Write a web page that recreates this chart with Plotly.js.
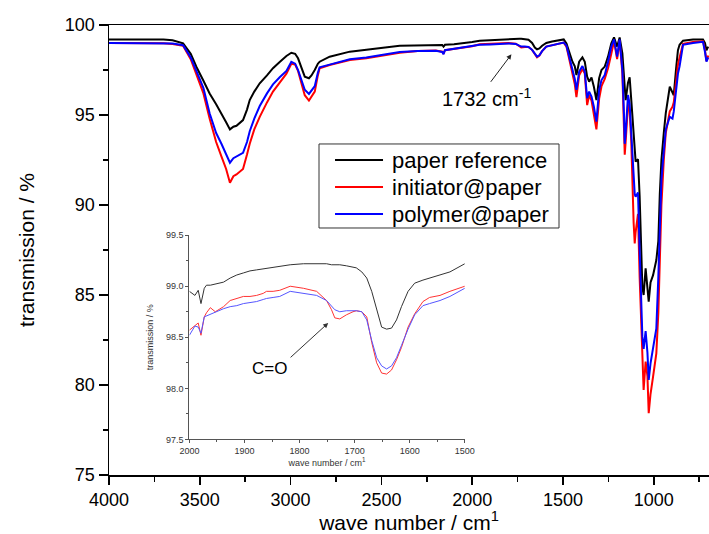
<!DOCTYPE html>
<html>
<head>
<meta charset="utf-8">
<script src="https://cdn.plot.ly/plotly-3.0.1.min.js"></script>
<style>
html,body{margin:0;padding:0;background:#fff;}
#chart{width:709px;height:534px;}
</style>
</head>
<body>
<div id="chart"></div>
<script>
// ---- series names ----
const seriesNames = ['paper reference', 'initiator@paper', 'polymer@paper'];

// ---- main spectrum (wave number, cm-1) ----
const wave = [4000,3800,3700,3650,3592,3550,3519,3480,3446,3410,3381,3355,3334,3315,3298,3275,3262,3240,3225,3200,3170,3130,3097,3060,3023,2996,2975,2959,2940,2922,2899,2885,2867,2850,2840,2785,2674,2583,2491,2399,2300,2200,2165,2158,2150,2100,2050,2000,1959,1900,1850,1800,1760,1740,1730,1710,1690,1670,1655,1643,1630,1615,1592,1560,1530,1518,1496,1481,1463,1448,1435,1426,1411,1393,1380,1367,1356,1343,1330,1316,1301,1288,1270,1252,1234,1219,1202,1188,1173,1164,1160,1155,1142,1133,1124,1111,1105,1100,1087,1078,1063,1056,1045,1035,1028,1018,1004,986,975,967,958,945,934,912,897,890,877,867,858,839,784,750,729,718,710,700];
const paperRef = [99.2,99.2,99.2,99.15,98.98,98.4,97.68,96.9,96.2,95.6,95.1,94.6,94.2,94.35,94.4,94.6,94.72,95.3,95.83,96.3,96.76,97.2,97.6,97.95,98.28,98.46,98.4,98.15,97.6,97.13,97.04,97.2,97.5,97.85,97.96,98.24,98.52,98.65,98.74,98.85,98.88,98.87,98.89,98.8,98.9,98.93,98.97,99.05,99.13,99.17,99.2,99.24,99.24,99.24,99.23,99.22,99.18,99.0,98.75,98.65,98.7,98.85,99.0,99.08,99.12,99.17,99.2,98.98,98.43,97.96,97.7,97.22,97.96,98.2,97.96,97.13,96.85,97.09,96.57,95.83,97.04,97.5,97.69,98.24,98.98,99.31,98.8,99.31,98.43,97.17,96.3,95.83,96.8,97.1,95.83,93.61,93.0,92.41,92.54,90.5,85.46,85.0,86.48,85.5,84.63,85.7,86.1,86.94,88.0,90.6,92.5,94.0,95.1,96.57,96.2,96.1,97.6,98.6,98.9,99.13,99.2,99.2,99.2,99.0,98.6,98.8];
const initiatorPaper = [99.0,99.0,98.98,98.95,98.85,98.1,97.3,96.2,94.8,93.5,92.7,92.0,91.24,91.6,91.7,91.9,92.0,92.8,93.4,94.2,94.9,95.7,96.3,96.8,97.3,97.85,97.8,97.45,96.7,96.1,95.8,96.0,96.3,97.2,97.6,97.78,98.06,98.15,98.3,98.46,98.55,98.58,98.52,98.4,98.6,98.68,98.75,98.82,98.93,98.95,98.97,99.0,98.96,98.8,98.75,98.78,98.78,98.62,98.35,98.2,98.3,98.55,98.8,98.88,98.95,99.0,99.02,98.8,98.0,97.35,96.7,96.0,97.2,97.55,97.3,95.55,96.1,95.8,95.1,94.2,95.9,96.6,97.0,97.6,98.4,99.1,98.1,99.15,97.3,94.5,92.8,93.5,95.6,95.2,93.5,89.0,87.87,88.5,89.5,86.0,81.5,79.72,81.3,80.5,78.43,79.5,80.46,81.76,84.0,87.0,90.0,92.5,94.0,95.2,95.46,95.7,96.9,97.8,98.2,98.95,99.05,99.08,99.1,98.6,98.0,98.3];
const polymerPaper = [99.0,99.0,99.0,98.97,98.88,98.2,97.45,96.5,95.1,94.0,93.4,92.8,92.35,92.6,92.7,92.85,92.9,93.5,94.1,94.8,95.5,96.2,96.7,97.1,97.45,97.95,97.85,97.5,96.9,96.4,96.17,96.35,96.6,97.35,97.65,97.8,98.1,98.2,98.35,98.5,98.55,98.57,98.5,98.38,98.6,98.68,98.72,98.8,98.9,98.92,98.95,98.97,98.95,98.85,98.8,98.8,98.78,98.62,98.38,98.24,98.32,98.55,98.8,98.88,98.93,98.98,99.02,98.85,98.15,97.5,97.0,96.4,97.41,97.72,97.41,95.93,96.3,96.02,95.46,94.63,96.39,96.94,97.22,97.96,98.8,99.2,98.24,99.2,97.5,95.0,93.4,94.0,96.11,95.6,93.98,91.39,90.6,90.46,90.69,87.5,82.7,82.0,83.0,81.8,80.28,81.2,82.06,83.15,86.0,89.0,91.39,93.0,94.2,94.9,94.8,95.2,96.4,97.3,97.7,98.9,99.0,99.05,99.07,98.5,97.96,98.2];

// ---- inset (2000-1500 cm-1) ----
const insetWave = [2000,1990,1984,1979,1973,1969,1962,1953,1944,1938,1926,1914,1902,1890,1878,1866,1860,1848,1836,1817,1793,1769,1751,1742,1736,1727,1715,1703,1697,1687,1678,1669,1660,1651,1642,1633,1624,1615,1603,1591,1576,1564,1545,1527,1500];
const insetRef = [98.95,98.91,98.96,98.83,98.98,99.01,99.01,99.02,99.03,99.04,99.08,99.11,99.13,99.15,99.16,99.17,99.18,99.19,99.2,99.21,99.22,99.22,99.22,99.21,99.21,99.21,99.2,99.19,99.18,99.14,99.08,98.95,98.77,98.6,98.58,98.59,98.67,98.8,98.95,99.03,99.06,99.08,99.11,99.14,99.22];
const insetInit = [98.57,98.62,98.64,98.52,98.7,98.74,98.79,98.75,98.78,98.8,98.86,98.88,98.9,98.9,98.91,98.93,98.95,98.95,98.96,99.0,98.98,98.95,98.86,98.77,98.69,98.68,98.72,98.75,98.76,98.75,98.7,98.45,98.25,98.15,98.14,98.18,98.28,98.4,98.6,98.73,98.85,98.89,98.91,98.95,99.0];
const insetPoly = [98.52,98.61,98.6,98.54,98.7,98.71,98.72,98.75,98.77,98.78,98.8,98.81,98.83,98.84,98.85,98.87,98.88,98.89,98.9,98.95,98.93,98.91,98.86,98.8,98.77,98.75,98.76,98.76,98.76,98.75,98.67,98.47,98.3,98.22,98.19,98.22,98.3,98.42,98.58,98.72,98.81,98.83,98.86,98.9,98.98];

const FONT = "Arial, 'Liberation Sans', sans-serif";
const mainColors = ['#000000', '#ff0000', '#0000ff'];
const insetColors = ['#333333', '#ff3333', '#5555ff'];
const mainSeries = [paperRef, initiatorPaper, polymerPaper];
const insetSeries = [insetRef, insetInit, insetPoly];

const traces = [];
mainSeries.forEach((s, i) => traces.push({x: wave, y: s, type: 'scatter', mode: 'lines', name: seriesNames[i], showlegend: false, line: {color: mainColors[i], width: 2}}));
insetSeries.forEach((s, i) => traces.push({x: insetWave, y: s, xaxis: 'x2', yaxis: 'y2', type: 'scatter', mode: 'lines', name: seriesNames[i], showlegend: false, line: {color: insetColors[i], width: 1}}));

// hand-made legend box (matches the reference's compact box)
const shapes = [{type: 'rect', xref: 'paper', yref: 'paper', x0: 0.35, x1: 0.75, y0: 0.5489, y1: 0.7356,
                 line: {color: '#333333', width: 1}, fillcolor: '#ffffff', layer: 'above'}];
const legendY = [0.70, 0.64, 0.58];
const annotations = [];
seriesNames.forEach((n, i) => {
  shapes.push({type: 'line', xref: 'paper', yref: 'paper', x0: 0.3767, x1: 0.4567, y0: legendY[i], y1: legendY[i],
               line: {color: mainColors[i], width: 2}, layer: 'above'});
  annotations.push({xref: 'paper', yref: 'paper', x: 0.4683, y: legendY[i], xanchor: 'left', yanchor: 'middle',
                    showarrow: false, text: n, font: {size: 22, family: FONT, color: '#000'}});
});
annotations.push(
  {xref: 'x', yref: 'y', x: 1784, y: 98.37, ax: 1904, ay: 96.76, axref: 'x', ayref: 'y',
   showarrow: true, arrowhead: 2, arrowsize: 1, arrowwidth: 1, arrowcolor: '#222', text: '', standoff: 0},
  {xref: 'x', yref: 'y', x: 1922, y: 95.98, showarrow: false,
   text: '1732 cm<sup>-1</sup>', font: {size: 20, family: FONT, color: '#000'}},
  {xref: 'x2', yref: 'y2', x: 1748, y: 98.64, ax: 1819, ay: 98.29, axref: 'x2', ayref: 'y2',
   showarrow: true, arrowhead: 2, arrowsize: 1, arrowwidth: 1, arrowcolor: '#333', text: ''},
  {xref: 'x2', yref: 'y2', x: 1854, y: 98.195, showarrow: false,
   text: 'C=O', font: {size: 17, family: FONT, color: '#000'}}
);

const layout = {
  width: 709, height: 534,
  margin: {l: 109, r: 0, t: 25, b: 59},
  paper_bgcolor: '#ffffff', plot_bgcolor: '#ffffff',
  font: {family: FONT, color: '#000'},
  showlegend: false,
  xaxis: {
    range: [4000, 696], autorange: false, domain: [0, 1],
    dtick: 500, tick0: 0, ticks: 'outside', ticklen: 8, tickwidth: 1.5, tickcolor: '#000',
    minor: {dtick: 250, ticks: 'outside', ticklen: 5, tickwidth: 1.5, tickcolor: '#000'},
    showline: true, linecolor: '#000', linewidth: 1.5, mirror: true,
    showgrid: false, zeroline: false,
    tickfont: {size: 18, family: FONT},
    title: {text: 'wave number / cm<sup>1</sup>', font: {size: 21, family: FONT}, standoff: 5}
  },
  yaxis: {
    range: [75, 100], autorange: false, domain: [0, 1],
    dtick: 5, tick0: 0, ticks: 'outside', ticklen: 9, tickwidth: 1.5, tickcolor: '#000',
    minor: {dtick: 2.5, ticks: 'outside', ticklen: 5, tickwidth: 1.5, tickcolor: '#000'},
    showline: true, linecolor: '#000', linewidth: 1.5, mirror: false,
    showgrid: false, zeroline: false,
    tickfont: {size: 18, family: FONT},
    title: {text: 'transmission / %', font: {size: 21, family: FONT}, standoff: 24}
  },
  xaxis2: {
    anchor: 'y2', domain: [0.134, 0.593],
    range: [2000, 1500], autorange: false,
    dtick: 100, tick0: 0, ticks: 'outside', ticklen: 3, tickwidth: 1, tickcolor: '#555',
    minor: {dtick: 50, ticks: 'outside', ticklen: 2, tickcolor: '#555'},
    showline: true, linecolor: '#555', linewidth: 1, mirror: false,
    showgrid: false, zeroline: false,
    tickfont: {size: 9, family: FONT, color: '#333'},
    title: {text: 'wave number / cm<sup>1</sup>', font: {size: 9, family: FONT, color: '#333'}, standoff: 2}
  },
  yaxis2: {
    anchor: 'x2', domain: [0.079, 0.533],
    range: [97.5, 99.5], autorange: false,
    dtick: 0.5, tick0: 0, tickformat: '.1f', ticks: 'outside', ticklen: 3, tickwidth: 1, tickcolor: '#555',
    minor: {dtick: 0.25, ticks: 'outside', ticklen: 2, tickcolor: '#555'},
    showline: true, linecolor: '#555', linewidth: 1, mirror: false,
    showgrid: false, zeroline: false,
    tickfont: {size: 9, family: FONT, color: '#333'},
    title: {text: 'transmission / %', font: {size: 9, family: FONT, color: '#333'}, standoff: 10}
  },
  shapes: shapes,
  annotations: annotations
};

Plotly.newPlot('chart', traces, layout, {displayModeBar: false, staticPlot: true});
</script>
</body>
</html>
